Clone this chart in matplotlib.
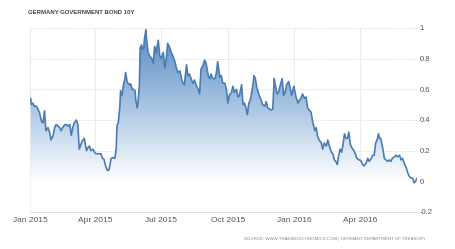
import numpy as np
import pandas as pd
import matplotlib
matplotlib.use("Agg")
import matplotlib.pyplot as plt
import matplotlib.dates as mdates
from matplotlib.colors import LinearSegmentedColormap

plt.rcParams["font.family"] = ["Liberation Sans", "DejaVu Sans"]

# yield data: days after 1 Jan 2015 and yield in percent
days = [1, 2, 4, 6, 9, 11, 13, 16, 18, 20, 22, 25, 27, 29, 32, 34, 36, 39, 41, 43,
        45, 48, 50, 52, 55, 57, 59, 61, 64, 66, 68, 71, 73, 75, 78, 80, 82, 84, 87, 89,
        91, 94, 98, 100, 102, 105, 107, 109, 112, 115, 117, 119, 120, 122, 124, 125, 127, 129, 131, 132,
        134, 135, 138, 139, 141, 143, 145, 146, 148, 149, 151, 152, 154, 155, 157, 158, 160, 161, 163, 165,
        168, 170, 172, 174, 177, 179, 181, 184, 186, 188, 190, 193, 195, 197, 200, 202, 204, 207, 209, 211,
        213, 216, 218, 220, 223, 225, 227, 230, 232, 234, 236, 239, 241, 243, 246, 248, 250, 252, 255, 257,
        259, 262, 264, 266, 269, 271, 273, 275, 278, 280, 282, 285, 287, 289, 292, 294, 296, 298, 300, 302,
        304, 306, 308, 309, 311, 313, 315, 317, 319, 321, 324, 326, 328, 331, 333, 335, 337, 338, 341, 343,
        345, 348, 350, 352, 354, 357, 359, 361, 364, 365, 367, 370, 372, 374, 376, 379, 381, 383, 386, 388,
        390, 393, 395, 397, 399, 402, 404, 406, 409, 411, 413, 416, 418, 420, 422, 424, 426, 428, 430, 432,
        434, 436, 438, 440, 442, 444, 447, 449, 451, 454, 455, 457, 459, 461, 464, 466, 468, 471, 473, 475,
        477, 479, 481, 482, 484, 487, 489, 491, 494, 496, 498, 500, 503, 505, 507, 510, 512, 514, 517, 519,
        521, 523, 526, 528, 530, 532, 534]
yields = [0.54, 0.50, 0.51, 0.49, 0.49, 0.47, 0.45, 0.39, 0.38, 0.46, 0.33, 0.35, 0.32, 0.27, 0.30, 0.35, 0.37, 0.36, 0.35, 0.33,
          0.35, 0.37, 0.37, 0.36, 0.37, 0.30, 0.35, 0.38, 0.40, 0.37, 0.21, 0.25, 0.27, 0.28, 0.20, 0.22, 0.23, 0.20, 0.21, 0.19,
          0.18, 0.18, 0.18, 0.15, 0.145, 0.09, 0.07, 0.075, 0.15, 0.155, 0.15, 0.21, 0.36, 0.39, 0.49, 0.59, 0.56, 0.63, 0.67, 0.71,
          0.65, 0.64, 0.63, 0.635, 0.60, 0.60, 0.59, 0.53, 0.48, 0.51, 0.63, 0.87, 0.89, 0.86, 0.87, 0.93, 0.99, 0.92, 0.84, 0.82,
          0.80, 0.77, 0.88, 0.84, 0.92, 0.82, 0.80, 0.84, 0.74, 0.80, 0.90, 0.87, 0.84, 0.82, 0.78, 0.74, 0.71, 0.72, 0.67, 0.64,
          0.63, 0.76, 0.69, 0.70, 0.66, 0.64, 0.66, 0.62, 0.60, 0.57, 0.73, 0.76, 0.79, 0.77, 0.69, 0.67, 0.70, 0.67, 0.67, 0.70,
          0.78, 0.68, 0.69, 0.64, 0.64, 0.60, 0.51, 0.56, 0.58, 0.62, 0.58, 0.60, 0.55, 0.56, 0.63, 0.50, 0.51, 0.48, 0.435, 0.51,
          0.53, 0.58, 0.64, 0.69, 0.67, 0.61, 0.58, 0.55, 0.53, 0.50, 0.49, 0.52, 0.48, 0.47, 0.465, 0.47, 0.67, 0.64, 0.57, 0.58,
          0.62, 0.67, 0.56, 0.58, 0.63, 0.65, 0.61, 0.56, 0.62, 0.60, 0.55, 0.51, 0.53, 0.54, 0.57, 0.54, 0.55, 0.48, 0.46, 0.45,
          0.39, 0.33, 0.35, 0.29, 0.27, 0.25, 0.21, 0.25, 0.23, 0.27, 0.23, 0.19, 0.18, 0.14, 0.13, 0.11, 0.17, 0.21, 0.19, 0.24,
          0.31, 0.28, 0.28, 0.32, 0.24, 0.22, 0.20, 0.18, 0.15, 0.14, 0.14, 0.13, 0.11, 0.10, 0.12, 0.15, 0.13, 0.15, 0.17, 0.17,
          0.25, 0.27, 0.31, 0.28, 0.28, 0.21, 0.15, 0.14, 0.13, 0.14, 0.13, 0.15, 0.16, 0.17, 0.16, 0.17, 0.14, 0.15, 0.11, 0.09,
          0.06, 0.035, 0.02, 0.02, -0.01, 0.00, 0.02]

start = pd.Timestamp("2015-01-01")
dates = start + pd.to_timedelta(days, unit="D")
x_ticks = ["2015-01-01", "2015-04-01", "2015-07-01", "2015-10-01", "2016-01-01", "2016-04-01"]
y_ticks = [-0.2, 0, 0.2, 0.4, 0.6, 0.8, 1]
y_labels = ["-0.2", "0", "0.2", "0.4", "0.6", "0.8", "1"]

title = "GERMANY GOVERNMENT BOND 10Y"
source = "SOURCE: WWW.TRADINGECONOMICS.COM | GERMANY DEPARTMENT OF TREASURY"

fig = plt.figure(figsize=(4.55, 2.49), dpi=100)
ax = fig.add_axes([0.0659, 0.1486, 0.8505, 0.739])

xnum = mdates.date2num(dates)
x0 = mdates.date2num(start)
ax.set_xlim(x0, xnum[-1])
ax.set_ylim(-0.2, 1)

# gradient fill under the line: blue at 1, white at 0
cmap = LinearSegmentedColormap.from_list("bl", ["#ffffff", "#a6c3e2", "#5889c0"])
grad = np.linspace(1, -0.2, 256).reshape(-1, 1)
im = ax.imshow(grad, cmap=cmap, aspect="auto", extent=[x0, xnum[-1], -0.2, 1],
               vmin=0, vmax=1, zorder=1)
poly = ax.fill_between(xnum, yields, -0.2, color="none", lw=0)
im.set_clip_path(poly.get_paths()[0], transform=ax.transData)

ax.plot(xnum, yields, color="#4a7db3", lw=1.2, zorder=3)

ax.set_yticks(y_ticks)
ax.set_yticklabels(y_labels)
ax.set_xticks(mdates.date2num(pd.to_datetime(x_ticks)))
ax.xaxis.set_major_formatter(mdates.DateFormatter("%b %Y"))
ax.yaxis.tick_right()
ax.tick_params(axis="y", length=0, pad=2, labelsize=5.5, labelcolor="#555555")
ax.tick_params(axis="x", length=0, pad=3.5, labelsize=6, labelcolor="#555555")

ax.grid(axis="y", color="#e2e2e2", lw=0.6, ls=(0, (2, 1)))
ax.grid(axis="x", color="#e8e8e8", lw=0.6)
ax.set_axisbelow(True)
for s in ["top", "right", "left"]:
    ax.spines[s].set_visible(False)
ax.spines["bottom"].set_color("#dddddd")
ax.spines["bottom"].set_linewidth(0.6)

fig.text(28 / 455, 1 - 13 / 249, title, fontsize=4.3, fontweight="bold",
         color="#444444", va="center", ha="left")
fig.text(244 / 455, 1 - 239 / 249, source, fontsize=3.15, color="#888888",
         va="center", ha="left")

fig.savefig("out.png", dpi=100)
